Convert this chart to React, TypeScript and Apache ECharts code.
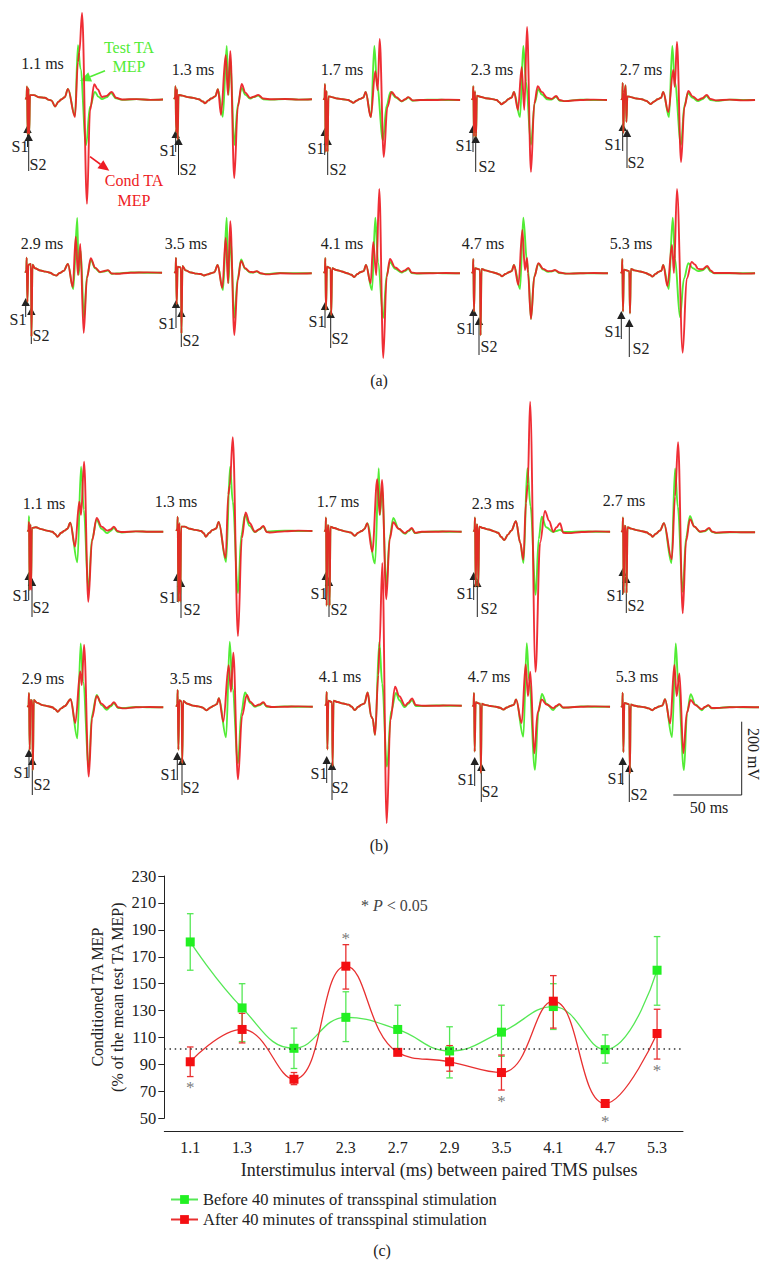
import React, { useEffect, useRef } from "react";
import * as echarts from "echarts";

type P = [number, number];

// ---------- Panel (a) traces: [ms after S1, mV from baseline] ----------
const a1Head: P[] = [[-1,0],[-0.3,6],[0,36],[0.5,-95],[1.1,30],[1.6,-95],[2.2,12],[5,12],[9,6],[13,5],[16,-1],[18,-3],[20.4,-19],[23,-6],[25,0],[27.5,6],[29.9,29]];
const a1Red: P[] = [[35,-48],[37.2,103],[38.2,130],[40.2,237],[43.8,-286],[46,-30],[49.1,42],[51.5,28],[54.8,7],[58,10],[61.8,21],[65,5],[69.4,0],[80,1],[90,-1],[99.3,0]];
const a1Green: P[] = [[35,-45],[37.2,149],[39,85],[43.1,-125],[46,-20],[49.6,21],[52,8],[54.8,1],[58,6],[61.3,18],[65,3],[69.4,-1],[80,1],[90,-1],[99.3,0]];

const a2Head: P[] = [[-1,0],[-0.3,5],[0,36],[0.5,-90],[1.1,28],[1.6,-110],[2.2,12],[5,10],[9,6],[13,4],[17,0],[20,-6],[21.5,-11],[24,-3],[26,2],[29,8],[31,28]];
const a2Red: P[] = [[33.2,-43],[36.6,121],[38.3,12],[40,132],[42.9,-216],[45.5,-20],[48.3,42],[51,18],[54.4,4],[57,7],[60.4,12],[64,2],[70.2,0],[80,1],[90,-1],[99.6,0]];
const a2Green: P[] = [[34.5,-48],[37.4,146],[38.7,12],[40,110],[42.9,-125],[45.5,-15],[48.3,31],[51,12],[54.4,2],[57,6],[60.4,10],[64,0],[70.2,-1],[80,1],[90,-1],[99.6,0]];

const a3Head: P[] = [[-1,0],[-0.3,5],[0,44],[0.5,-142],[1.1,25],[1.9,-142],[2.5,10],[5,8],[9,4],[13,2],[17,0],[19,-4],[20.5,-8],[23,-2],[25.5,3],[28,7],[29.7,22]];
const a3Red: P[] = [[33.4,-47],[36.7,79],[38.5,27],[39.9,167],[42.9,-156],[45.5,-20],[48.7,22],[52,8],[56,-3],[58.5,2],[60.8,8],[64,-1],[69.4,0],[80,0],[90,1],[98.6,0]];
const a3Green: P[] = [[33.6,-47],[36,148],[38,40],[42.3,-110],[45,-15],[47.8,22],[52,6],[56,-4],[58.5,1],[60.8,7],[64,-2],[69.4,0],[80,1],[90,0],[98.6,0]];

const a4Head: P[] = [[-1,0],[-0.3,4],[0,38],[0.5,-100],[1.2,24],[2,-100],[2.6,12],[5,9],[9,5],[13,3],[17,0],[19,-6],[20.5,-12],[23,-6],[25.5,2],[28,7],[29.7,22]];
const a4Red: P[] = [[32.6,-27],[35.3,90],[37.2,-27],[39.2,200],[42.1,-197],[44.5,-10],[47,38],[50,22],[54,6],[57.2,3],[60.4,11],[63,0],[66.9,-3],[78,0],[88,1],[97.6,0]];
const a4Green: P[] = [[34.1,-47],[36.5,148],[38.5,50],[42.1,-123],[44.8,-8],[47.5,30],[50,15],[54,2],[57.2,1],[60.4,9],[63,-2],[66.9,-3],[78,1],[88,0],[97.6,0]];

const a5Head: P[] = [[-1,0],[-0.3,4],[0,47],[0.5,-90],[1.2,20],[2.2,40],[2.7,-60],[3.4,10],[6,8],[10,4],[14,2],[17,-2],[20.5,-11],[23,-4],[25.5,2],[28,6],[29.6,22]];
const a5Red: P[] = [[33.3,-33],[36.9,82],[38,36],[39.6,159],[42.6,-170],[45,-20],[47.9,25],[51,10],[55,0],[58,5],[61.3,14],[64,3],[68,-1],[78,1],[88,-1],[96.6,0]];
const a5Green: P[] = [[33.8,-47],[36.2,148],[38,50],[42.6,-123],[45,-15],[47.7,19],[51,6],[55,-3],[58,2],[61.3,11],[64,0],[68,-2],[78,1],[88,0],[96.6,0]];

const a6Head: P[] = [[-1,0],[-0.3,6],[0,41],[0.5,-80],[1.2,22],[3.1,24],[3.5,-175],[4.2,22],[6,12],[10,6],[14,3],[17,0],[20,-6],[21.5,-8],[24,-1],[27,5],[30.1,24]];
const a6Red: P[] = [[33.6,-39],[35.8,98],[37.4,-6],[39.1,79],[41.6,-165],[44,-15],[46.7,40],[50,14],[53.5,2],[56,4],[59.3,7],[62,-2],[65.7,-3],[76,0],[88,1],[98.8,0]];
const a6Green: P[] = [[34,-45],[36.9,150],[37.9,-6],[39.4,60],[41.8,-124],[44,-10],[46.9,35],[50,12],[53.5,1],[56,3],[59.3,6],[62,-3],[65.7,-2],[76,1],[88,0],[98.8,0]];

const a7Head: P[] = [[-1,0],[-0.3,6],[0,43],[0.5,-85],[1.2,18],[3.6,16],[4,-165],[4.7,20],[7,8],[11,2],[15,-1],[18,-2],[20.5,-6],[23,-3],[25.5,0],[28,3],[30.4,23]];
const a7Red: P[] = [[33.8,-40],[36.3,97],[38,-27],[39.6,143],[42.6,-169],[45,-20],[47.5,34],[50.5,14],[54,4],[56.5,3],[58.9,6],[62,0],[66.2,-3],[76,0],[88,-1],[99.1,0]];
const a7Green: P[] = [[34.3,-46],[37,152],[38.3,-27],[39.8,100],[42.6,-122],[45,-15],[47.5,38],[50.5,12],[54,2],[56.5,2],[58.9,5],[62,-1],[66.2,-2],[76,1],[88,0],[99.1,0]];

const a8Head: P[] = [[-1,0],[-0.3,5],[0,42],[0.5,-100],[1.2,18],[3.9,14],[4.3,-115],[5,14],[8,9],[12,5],[16,0],[19,-4],[21,-10],[23.5,-2],[25.5,3],[28,6],[29.7,23]];
const a8Red: P[] = [[33.1,-27],[35,86],[37.2,-5],[39.4,231],[42.3,-232],[44.8,-10],[47.2,39],[51,16],[55.8,4],[58,8],[60.6,15],[63,2],[66.7,0],[76,0],[88,1],[98.3,0]];
const a8Green: P[] = [[34.1,-46],[36.5,152],[38.5,30],[42.3,-122],[44.8,-5],[47.2,31],[51,12],[55.8,2],[58,6],[60.6,12],[63,1],[66.7,-1],[76,1],[88,0],[98.3,0]];

const a9Head: P[] = [[-1,0],[-0.3,4],[0,39],[0.5,-105],[1.2,14],[4.9,10],[5.3,-170],[6,12],[9,8],[13,4],[16,1],[19,-3],[21,-8],[23.5,-2],[26,3],[28,6],[29.7,23]];
const a9Red: P[] = [[32.9,-32],[35.8,119],[37.7,9],[39.2,42],[39.9,1],[42.1,-125],[44.5,-10],[47.5,28],[51,12],[54.5,6],[57,6],[59.6,9],[63,2],[68.2,-1],[78,0],[88,1],[98.3,0]];
const a9Green: P[] = [[34.1,-43],[36.5,152],[39.2,31],[40,10],[42.1,-125],[44.5,-8],[47.5,26],[51,10],[54.5,4],[57,5],[59.6,8],[63,1],[68.2,-1],[78,0],[88,0],[98.3,0]];

const a10Head: P[] = [[-1,0],[-0.3,4],[0,39],[0.5,-105],[1.2,10],[5.1,6],[5.6,-110],[6.3,12],[9,8],[13,5],[17,1],[20,-4],[22,-9],[24.5,-1],[26.5,4],[28.5,7],[29.9,23]];
const a10Red: P[] = [[32.9,-35],[36.3,78],[37.7,1],[39.9,231],[44.1,-218],[47,-15],[50.7,31],[53,24],[55.3,12],[58.5,11],[62,20],[64.5,8],[66.9,1],[78,1],[88,-1],[96.9,0]];
const a10Green: P[] = [[33.9,-43],[36.8,152],[38.5,40],[42.1,-120],[45,-15],[48.2,28],[51.5,14],[55.3,6],[58.5,8],[61.8,17],[64.5,5],[66.9,0],[78,0],[88,0],[96.9,0]];

// ---------- Panel (b) traces ----------
const b1Head: P[] = [[-1,0],[-0.3,4],[0,27],[0.5,-160],[1,20],[1.5,-160],[2.1,10],[5,12],[9,7],[13,3],[17,0],[19,-6],[20.8,-14],[23.5,-3],[26,3],[28,8],[30.1,25]];
const b1GreenHead: P[] = [[-1,0],[-0.3,4],[0,43],[0.5,-160],[1,20],[1.5,-150],[2.1,10],[5,12],[9,7],[13,3],[17,0],[19,-6],[20.8,-14],[23.5,-3],[26,3],[28,8],[30.1,25]];
const b1Red: P[] = [[33.6,-41],[36.7,82],[38,46],[40.2,192],[43.3,-192],[46,-25],[49.4,38],[53,14],[57.2,3],[59.5,6],[62,14],[64.5,2],[67.7,-1],[78,1],[88,0],[98,0]];
const b1Green: P[] = [[35.3,-84],[38,178],[40,60],[43.3,-160],[46,-20],[49.4,32],[53,8],[57,-4],[59.5,2],[62,10],[64.5,0],[67.7,-2],[78,1],[88,0],[98,0]];

const b2Head: P[] = [[-1,0],[-0.3,5],[0,39],[0.5,-194],[1.2,22],[1.9,-194],[2.5,12],[5,12],[9,6],[13,3],[17,0],[19,-6],[20.5,-16],[23,-5],[25.5,3],[28,7],[29.9,25]];
const b2Red: P[] = [[35,-74],[36.9,99],[38,125],[40.2,257],[44,-288],[46.8,-20],[49.6,51],[52.5,22],[56.4,-2],[59.5,5],[62.5,14],[65,-3],[67.4,-4],[78,-1],[88,1],[98.3,0]];
const b2Green: P[] = [[35.3,-85],[38.2,176],[40.2,80],[44,-170],[46.5,-10],[49.1,44],[52.5,14],[56.4,-3],[59.5,4],[62.5,12],[65,-2],[67.4,-1],[78,1],[88,0],[98.3,0]];

const b3Head: P[] = [[-1,0],[-0.3,5],[0,39],[0.5,-203],[1.2,18],[2.2,14],[2.6,-203],[3.3,14],[6,10],[10,5],[14,1],[18,-2],[21,-11],[23.5,-3],[26,2],[28,7],[30.1,23]];
const b3Red: P[] = [[33.8,-55],[37.4,144],[39.2,46],[40.9,142],[44,-185],[46.5,-20],[49.1,26],[53,8],[57.7,-4],[60,3],[62.6,10],[65,-3],[69.9,0],[80,0],[90,1],[99,0]];
const b3Green: P[] = [[35.8,-87],[38.5,174],[39.4,46],[41,120],[44,-151],[46.5,-15],[49.1,38],[53,8],[57.7,-6],[60,1],[62.6,8],[65,-4],[69.9,-1],[80,1],[90,0],[99,0]];

const b4Head: P[] = [[-1,0],[-0.3,5],[0,39],[0.5,-150],[1.2,20],[2,16],[2.4,-150],[3.1,14],[6,10],[10,6],[14,1],[17,-3],[19,-14],[21.4,-23],[24,-8],[26.5,3],[29.9,29]];
const b4Red: P[] = [[33,-30],[35.3,-76],[37.2,79],[38.5,130],[40.2,356],[44.2,-384],[47.5,-30],[51.1,57],[54,30],[57.2,0],[59.5,12],[62,23],[64.5,-3],[68.1,-4],[78,-1],[88,1],[98.6,0]];
const b4Green: P[] = [[33,-30],[35.4,-86],[38.2,174],[40.5,70],[44.3,-173],[46.5,-20],[48.7,41],[52,12],[57,-1],[59.5,2],[62,5],[65,-1],[68.1,-1],[78,1],[88,0],[98.6,0]];

const b5Head: P[] = [[-1,0],[-0.3,5],[0,41],[0.5,-167],[1.2,18],[2.2,14],[2.6,-167],[3.3,14],[6,10],[10,6],[14,3],[17,0],[20,-6],[21.5,-12],[24,-4],[27,5],[29.9,25]];
const b5Red: P[] = [[35.6,-74],[38,98],[40.2,247],[43.6,-222],[46,-25],[48.9,36],[52,16],[56.2,2],[59.5,4],[62.8,12],[65,2],[67.9,-1],[78,1],[88,0],[96.4,0]];
const b5Green: P[] = [[35.4,-84],[38,175],[40,70],[43.6,-163],[46,-15],[48.9,45],[52,16],[56.2,1],[59.5,3],[62.8,10],[65,1],[67.9,-2],[78,0],[88,0],[96.4,0]];

const b6Head: P[] = [[-1,0],[-0.3,6],[0,39],[0.5,-117],[1.2,20],[2.4,18],[2.8,-172],[3.5,20],[6,12],[10,6],[14,3],[17,0],[19,-5],[21,-12],[23.5,-3],[26,3],[30.4,22]];
const b6Red: P[] = [[33.8,-43],[37.4,98],[38.5,61],[40.2,171],[43.6,-190],[46,-30],[49.4,31],[53,10],[56.7,-2],[59.5,5],[62,14],[65,0],[68.8,-3],[78,0],[88,1],[98,0]];
const b6Green: P[] = [[35.3,-85],[37.7,175],[39.5,70],[43.6,-163],[46,-20],[49.4,34],[53,6],[56.7,-7],[59.5,2],[62,11],[65,-2],[68.8,-2],[78,1],[88,0],[98,0]];

const b7Head: P[] = [[-1,0],[-0.3,6],[0,46],[0.5,-118],[1.2,18],[2.9,14],[3.3,-155],[4,16],[7,8],[11,3],[15,1],[18,-2],[21,-10],[24,-2],[26.5,3],[28.5,7],[30.1,23]];
const b7Red: P[] = [[33.3,-41],[37.2,114],[38.9,41],[40.6,148],[44,-199],[47,-25],[50.4,32],[53,14],[56.4,2],[59.5,6],[62.5,12],[65,2],[68.6,-1],[78,0],[88,1],[98.6,0]];
const b7Green: P[] = [[35.3,-84],[38,178],[40,50],[44,-155],[46.5,-15],[49.1,39],[53,10],[56.4,0],[59.5,4],[62.5,10],[65,0],[68.6,-1],[78,1],[88,0],[98.6,0]];

const b8Head: P[] = [[-1,0],[-0.3,5],[0,38],[0.5,-120],[1.2,14],[3.9,10],[4.3,-165],[5,14],[8,10],[12,6],[16,3],[18,-2],[20.5,-12],[23,-3],[25.5,3],[27.5,6],[29.9,36]];
const b8Red: P[] = [[32.5,-30],[33.5,-35],[35.3,-80],[37.7,84],[38.5,160],[40.6,391],[43.8,-322],[46.5,-40],[49.9,52],[53,26],[57.2,0],[59.5,8],[62.3,20],[65,2],[70.1,0],[80,0],[90,1],[98.6,0]];
const b8Green: P[] = [[32.5,-30],[33.5,-35],[35.3,-80],[38.4,175],[40.5,60],[44,-167],[47,-15],[50.6,35],[53,15],[57,-4],[59.5,5],[62.3,15],[65,-1],[70.1,-1],[80,1],[90,0],[98.6,0]];

const b9Head: P[] = [[-1,0],[-0.3,4],[0,38],[0.5,-123],[1.2,12],[4.6,8],[5,-182],[5.7,8],[8,5],[12,2],[16,0],[19,-3],[21.5,-8],[24,-2],[26.5,2],[29,5],[30.7,20]];
const b9Red: P[] = [[34.8,-45],[37.7,116],[39.4,29],[41.1,96],[44,-128],[46.5,-15],[49.4,20],[53,6],[57.9,-4],[60,2],[62.3,7],[65,-2],[68.8,-2],[78,0],[88,1],[99.3,0]];
const b9Green: P[] = [[36,-82],[38.5,174],[40.2,73],[44.5,-173],[47,-15],[49.6,35],[53,8],[57.9,-9],[60,0],[62.3,6],[65,-3],[68.8,-2],[78,1],[88,0],[99.3,0]];

const b10Head: P[] = [[-1,0],[-0.3,4],[0,40],[0.5,-123],[1.2,12],[4.8,8],[5.2,-182],[5.9,8],[8,5],[12,2],[16,0],[19,-3],[21.5,-8],[24,-2],[26.5,2],[29,5],[30.9,22]];
const b10Red: P[] = [[34.7,-44],[37.7,116],[39.4,31],[41.4,93],[44.3,-126],[46.8,-15],[49.6,20],[53,6],[57.7,-5],[60,1],[62.5,6],[65,-2],[68.6,-2],[78,0],[88,1],[99.5,0]];
const b10Green: P[] = [[36,-82],[38.7,175],[40.5,70],[44.7,-172],[47,-15],[49.6,36],[53,8],[57.7,-8],[60,0],[62.5,5],[65,-3],[68.6,-2],[78,1],[88,0],[99.5,0]];

const ISI_LABELS = ["1.1", "1.3", "1.7", "2.3", "2.7", "2.9", "3.5", "4.1", "4.7", "5.3"];

const TRACES: { h: P[]; gh?: P[]; r: P[]; g: P[] }[] = [
  { h: a1Head, r: a1Red, g: a1Green }, { h: a2Head, r: a2Red, g: a2Green },
  { h: a3Head, r: a3Red, g: a3Green }, { h: a4Head, r: a4Red, g: a4Green },
  { h: a5Head, r: a5Red, g: a5Green }, { h: a6Head, r: a6Red, g: a6Green },
  { h: a7Head, r: a7Red, g: a7Green }, { h: a8Head, r: a8Red, g: a8Green },
  { h: a9Head, r: a9Red, g: a9Green }, { h: a10Head, r: a10Red, g: a10Green },
  { h: b1Head, gh: b1GreenHead, r: b1Red, g: b1Green }, { h: b2Head, r: b2Red, g: b2Green },
  { h: b3Head, r: b3Red, g: b3Green }, { h: b4Head, r: b4Red, g: b4Green },
  { h: b5Head, r: b5Red, g: b5Green }, { h: b6Head, r: b6Red, g: b6Green },
  { h: b7Head, r: b7Red, g: b7Green }, { h: b8Head, r: b8Red, g: b8Green },
  { h: b9Head, r: b9Red, g: b9Green }, { h: b10Head, r: b10Red, g: b10Green },
];

// ---------- Panel layout (positions only) ----------
// S1 x, baseline y
const PANEL_ORIGIN: P[] = [
  [27, 99.5], [175.5, 99.3], [325, 100], [473.3, 100], [622.7, 100],
  [26.7, 272.7], [176, 273.3], [325.3, 273.3], [473.3, 273.3], [622.3, 273.3],
  [29, 531.7], [177.7, 531], [326, 531.7], [475, 531.7], [623, 532.3],
  [29, 707.3], [177.7, 706.7], [326.7, 705.7], [474, 706.7], [622.7, 707.3],
];
// time label centre
const LABEL_POS: P[] = [
  [42.5, 63], [193, 69], [342, 69], [492, 69], [641, 69],
  [42, 243], [186, 243], [342, 243], [483, 243], [631, 243],
  [44, 503], [176, 501], [338, 501], [493, 503], [624, 500],
  [43, 678], [191, 678], [340, 676], [489, 676], [637, 676],
];
// S1 x, tip, tail, S2 x, tip, tail, S1 label x, y, S2 label x, y
const ARROWS: number[][] = [
  [27.5,125,147,28.7,133,171,20,146,38,164],
  [175.7,130,152,178.5,137,175,168,150,188,169],
  [324.7,128,155,327.7,137,175,316,148,338,169],
  [473,125,152,475.7,135,172,464,145,487,166],
  [622.7,123,151,627,129,168,613,144,636,162],
  [25.7,298,317,31.3,307,344,18,319,41,335],
  [176,300,328,181.3,309,347,167,323,191,340],
  [325,302,328,330.7,310,348,317,321,340,338],
  [473.3,308,335,479,317,355,465,328,489,346],
  [621.3,311,339,629.3,319,357,613,331,641,348],
  [28.7,572,600,32,578,617,21,595,41,607],
  [177.3,573,602,181,579,618,168,597,192,609],
  [325.7,572,600,329,578,617,319,593,339,609],
  [473.7,572,600,477.3,579,617,465,593,489,608],
  [622.7,568,595,626.3,575,613,615,595,636,605],
  [29,749,777,32.3,757,795,22,772,42,784],
  [177.3,752,780,182,757,795,169,774,191,787],
  [326.7,756,783,332,762,800,319,773,340,787],
  [474.7,757,786,481.3,763,802,466,779,490,791],
  [622.7,757,785,629.3,764,802,616,778,639,794],
];

// ---------- Panel (c) values ----------
const BEFORE_MEAN = [181, 132, 102, 125, 116, 100, 114, 133, 101, 160];
const BEFORE_LOW = [160, 107, 87, 107, 99, 80, 96, 116, 91, 134];
const BEFORE_HIGH = [202, 150, 117, 144, 134, 118, 134, 150, 112, 185];
const AFTER_MEAN = [92, 116, 79, 163, 99, 92, 84, 137, 61, 113];
const AFTER_LOW = [81, 106, 75, 146, 97, 85, 71, 117, 59, 94];
const AFTER_HIGH = [103, 128, 84, 179, 101, 104, 97, 156, 63, 131];
const SIG_STARS: (number | null)[] = [75, null, null, 186, null, null, 65, null, 49.5, 88];
const REFERENCE_LEVEL = 101.5;
const Y_TICKS = { min: 50, max: 230, step: 20 };
const BEFORE_NAME = "Before 40 minutes of transspinal stimulation";
const AFTER_NAME = "After 40 minutes of transspinal stimulation";

const FONT = "Liberation Serif";
const GREEN = "#52ec35";
const RED = "#ee1c24";
const MS_PX = 1.37;
const MV_PX = 0.365;
const T_MIN = -2, T_MAX = 104, V_MAX = 250, V_MIN = -400;

function arrowShapes(x1: number, y1: number, x2: number, y2: number, color: string, lw: number, len: number, hw: number) {
  const d = Math.hypot(x2 - x1, y2 - y1);
  const ux = (x2 - x1) / d, uy = (y2 - y1) / d;
  const bx = x2 - ux * len, by = y2 - uy * len;
  return [
    { type: "line", shape: { x1, y1, x2: bx, y2: by }, style: { stroke: color, lineWidth: lw } },
    { type: "polygon", shape: { points: [[x2, y2], [bx - uy * hw, by + ux * hw], [bx + uy * hw, by - ux * hw]] }, style: { fill: color } },
  ];
}

function txt(x: number, y: number, text: string, extra: any = {}) {
  return {
    type: "text", x, y,
    style: { text, fontFamily: FONT, fontSize: 16, fill: "#222", align: "center", verticalAlign: "middle", ...extra },
  };
}

function errorSeries(name: string, low: number[], high: number[], color: string) {
  return {
    type: "custom", name, xAxisIndex: 20, yAxisIndex: 20, silent: true, clip: false,
    encode: { x: 0, y: [1, 2] },
    data: low.map((l, i) => [i, l, high[i]]),
    renderItem: (_: any, api: any) => {
      const a = api.coord([api.value(0), api.value(1)]);
      const b = api.coord([api.value(0), api.value(2)]);
      const st = { stroke: color, lineWidth: 1.3, fill: "none" };
      const cap = 3.3;
      return {
        type: "group",
        children: [
          { type: "line", shape: { x1: a[0], y1: a[1], x2: b[0], y2: b[1] }, style: st },
          { type: "line", shape: { x1: a[0] - cap, y1: a[1], x2: a[0] + cap, y2: a[1] }, style: st },
          { type: "line", shape: { x1: b[0] - cap, y1: b[1], x2: b[0] + cap, y2: b[1] }, style: st },
        ],
      };
    },
  };
}

export default function App() {
  const ref = useRef<HTMLDivElement>(null);
  useEffect(() => {
    document.body.style.margin = "0";
    const chart = echarts.init(ref.current!, undefined, { renderer: "svg" });

    const grids: any[] = [], xAxes: any[] = [], yAxes: any[] = [], series: any[] = [], graphic: any[] = [];

    TRACES.forEach((tr, i) => {
      const [sx, by] = PANEL_ORIGIN[i];
      grids.push({
        left: sx + T_MIN * MS_PX, width: (T_MAX - T_MIN) * MS_PX,
        top: by - V_MAX * MV_PX, height: (V_MAX - V_MIN) * MV_PX,
      });
      xAxes.push({ type: "value", gridIndex: i, min: T_MIN, max: T_MAX, show: false });
      yAxes.push({ type: "value", gridIndex: i, min: V_MIN, max: V_MAX, show: false });
      const mk = (nm: string, data: P[], color: string, width: number, opacity: number) => ({
        type: "line", name: nm, xAxisIndex: i, yAxisIndex: i, data, symbol: "none", showSymbol: false,
        smooth: 0.35, smoothMonotone: "x", clip: false, silent: true,
        lineStyle: { color, width, opacity },
      });
      const lab = `${i < 10 ? "a" : "b"} ${ISI_LABELS[i % 10]} ms`;
      series.push(mk(`${lab} test`, [...(tr.gh || tr.h), ...tr.g], GREEN, 1.9, 1));
      series.push(mk(`${lab} cond`, [...tr.h, ...tr.r], RED, 1.9, 0.92));

      const [lx, ly] = LABEL_POS[i];
      graphic.push(txt(lx, ly, `${ISI_LABELS[i % 10]} ms`));
      const [x1, t1, e1, x2, t2, e2, l1x, l1y, l2x, l2y] = ARROWS[i];
      graphic.push(...arrowShapes(x1, e1, x1, t1, "#222", 1, 8, 4.2));
      graphic.push(...arrowShapes(x2, e2, x2, t2, "#222", 1, 8, 4.2));
      graphic.push(txt(l1x, l1y, "S1"), txt(l2x, l2y, "S2"));
    });

    // Annotations of panel (a)
    graphic.push(txt(129, 47, "Test TA", { fill: GREEN }), txt(129, 66, "MEP", { fill: GREEN }));
    graphic.push(txt(134, 180, "Cond TA", { fill: RED }), txt(134, 200, "MEP", { fill: RED }));
    graphic.push(...arrowShapes(105, 70.7, 80, 81, GREEN, 1.6, 11, 5));
    graphic.push(...arrowShapes(90, 156.7, 109.3, 170.7, RED, 1.6, 11, 5));

    // Captions and scale bar
    graphic.push(txt(379, 380, "(a)"), txt(379, 845, "(b)"), txt(382, 1250, "(c)"));
    graphic.push({ type: "polyline", shape: { points: [[673.3, 795], [741.7, 795], [741.7, 721.7]] }, style: { stroke: "#222", lineWidth: 1, fill: "none" } });
    graphic.push(txt(709, 807, "50 ms"));
    graphic.push({
      type: "text", x: 753, y: 754, rotation: -Math.PI / 2,
      style: { text: "200 mV", fontFamily: FONT, fontSize: 16, fill: "#222", align: "center", verticalAlign: "middle" },
    });

    // P-value note
    graphic.push({
      type: "text", x: 361, y: 905,
      style: {
        text: "{s|* }{i|P}{s| < 0.05}", verticalAlign: "middle", align: "left",
        rich: {
          s: { fontFamily: FONT, fontSize: 16, fill: "#444" },
          i: { fontFamily: FONT, fontSize: 16, fontStyle: "italic", fill: "#444" },
        },
      },
    });

    // Panel (c)
    grids.push({ left: 164.3, right: 773 - 683, top: 876, height: 242.3 });
    xAxes.push({
      type: "category", gridIndex: 20, data: ISI_LABELS, offset: 13, boundaryGap: true,
      axisLine: { lineStyle: { color: "#222", width: 1 } },
      axisTick: { length: 6, lineStyle: { color: "#222", width: 1 } },
      axisLabel: { fontFamily: FONT, fontSize: 16, color: "#222", margin: 8 },
      name: "Interstimulus interval (ms) between paired TMS pulses",
      nameLocation: "middle", nameGap: 30,
      nameTextStyle: { fontFamily: FONT, fontSize: 18, color: "#222", padding: [0, 0, 0, 31] },
    });
    yAxes.push({
      type: "value", gridIndex: 20, min: Y_TICKS.min, max: Y_TICKS.max, interval: Y_TICKS.step,
      splitLine: { show: false },
      axisLine: { show: true, lineStyle: { color: "#222", width: 1 } },
      axisTick: { show: true, length: 6, lineStyle: { color: "#222", width: 1 } },
      axisLabel: { fontFamily: FONT, fontSize: 16.5, color: "#222", margin: 8 },
      name: "Conditioned TA MEP\n(% of the mean test TA MEP)",
      nameLocation: "middle", nameGap: 37, nameMoveOverlap: false,
      nameTextStyle: { fontFamily: FONT, fontSize: 16, color: "#222", lineHeight: 20 },
    });

    const meanSeries = (name: string, data: number[], line: string, mark: string, extra: any = {}) => ({
      type: "line", name, xAxisIndex: 20, yAxisIndex: 20, data, smooth: 0.45,
      symbol: "rect", symbolSize: 9, showSymbol: true, silent: true,
      lineStyle: { color: line, width: 1.3 },
      itemStyle: { color: mark },
      ...extra,
    });

    series.push(errorSeries("before error", BEFORE_LOW, BEFORE_HIGH, "#55e855"));
    series.push(meanSeries(BEFORE_NAME, BEFORE_MEAN, "#55e855", "#22f022", {
      markLine: {
        silent: true, symbol: "none", label: { show: false },
        lineStyle: { color: "#333", width: 1.5, type: [1.5, 3.7] },
        data: [{ yAxis: REFERENCE_LEVEL }],
      },
    }));
    series.push(errorSeries("after error", AFTER_LOW, AFTER_HIGH, "#e83030"));
    series.push(meanSeries(AFTER_NAME, AFTER_MEAN, "#e83030", "#f40f12"));
    series.push({
      type: "scatter", name: "significance", xAxisIndex: 20, yAxisIndex: 20,
      data: SIG_STARS, symbolSize: 1, clip: false, silent: true,
      itemStyle: { color: "transparent" },
      label: { show: true, formatter: "*", position: "inside", fontFamily: FONT, fontSize: 17, color: "#555", offset: [0, 3] },
    });

    chart.setOption({
      animation: false,
      textStyle: { fontFamily: FONT },
      grid: grids, xAxis: xAxes, yAxis: yAxes, series, graphic,
      legend: {
        left: 165, top: 1186, orient: "vertical", itemWidth: 27, itemHeight: 11, itemGap: 3,
        data: [BEFORE_NAME, AFTER_NAME], selectedMode: false,
        textStyle: { fontFamily: FONT, fontSize: 16.5, color: "#222" },
      },
    });
    return () => chart.dispose();
  }, []);
  return <div ref={ref} style={{ position: "absolute", left: 0, top: 0, width: 773, height: 1283 }} />;
}
